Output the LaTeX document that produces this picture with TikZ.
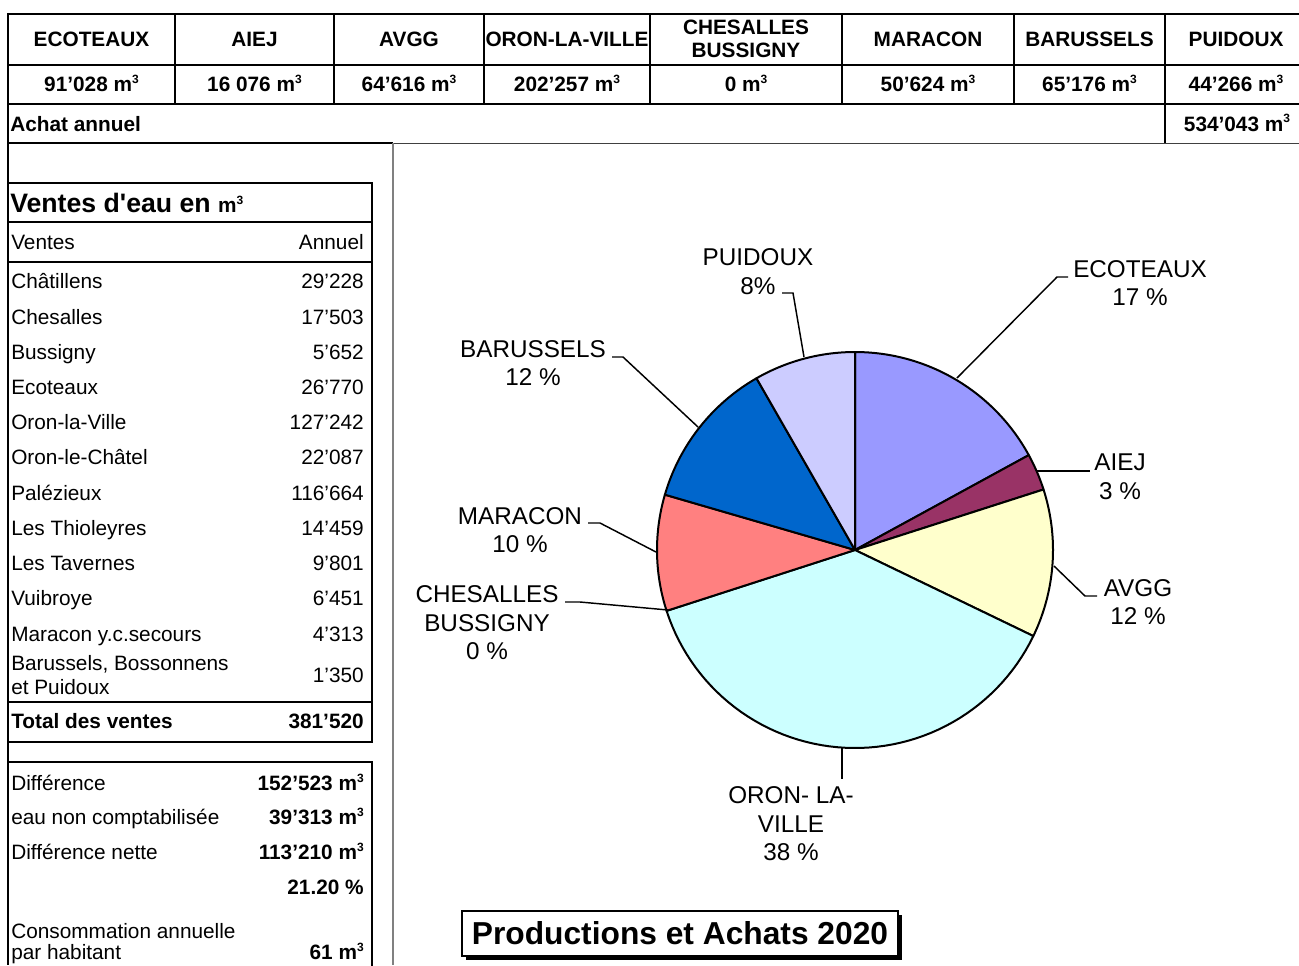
\documentclass[tikz,border=0pt]{standalone}
\usepackage{fontspec}
\setmainfont{Liberation Sans}
\usetikzlibrary{calc}
\definecolor{cEco}{HTML}{9999FF}
\definecolor{cAiej}{HTML}{993366}
\definecolor{cAvgg}{HTML}{FFFFCC}
\definecolor{cOron}{HTML}{CCFFFF}
\definecolor{cMara}{HTML}{FF8080}
\definecolor{cBaru}{HTML}{0066CC}
\definecolor{cPuid}{HTML}{CCCCFF}
\definecolor{panelgray}{HTML}{808080}
\definecolor{thingray}{HTML}{404040}
\newcommand{\fnorm}{\fontsize{15.6}{17.3}\selectfont}
\newcommand{\fpie}{\fontsize{18.2}{21.4}\selectfont}
\newcommand{\fvt}{\fontsize{20}{24}\selectfont}
\newcommand{\fchart}{\fontsize{23.8}{28}\selectfont}
\newcommand{\cubm}{m\raisebox{6.2pt}{\fontsize{9}{9}\selectfont 3}}
\begin{document}
\begin{tikzpicture}[x=0.75pt,y=-0.75pt,
  thk/.style={line width=2.2pt},
  mid/.style={line width=1.5pt},
  cell/.style={font=\fnorm\bfseries, inner sep=0, align=center},
  lab/.style={font=\fnorm, inner sep=0},
  labb/.style={font=\fnorm\bfseries, inner sep=0},
  pielab/.style={font=\fpie, inner sep=0, align=center},
  slice/.style={draw=black, line width=1.5pt, line join=round},
  lead/.style={line width=1.1pt}]
\useasboundingbox (0,0) rectangle (1299,965);

% ---------- top table ----------
\draw[thk] (8,14) -- (1299,14);
\draw[mid] (8,65) -- (1299,65);
\draw[thk] (8,104) -- (1299,104);
\draw[thk] (8,12.9) -- (8,965);
\foreach \cx in {175,334,484,650,842,1014} {\draw[thk] (\cx,14) -- (\cx,104);}
\draw[thk] (1165,14) -- (1165,143);
\draw[thk] (8,143) -- (393,143);
\draw[line width=0.75pt, draw=thingray] (393,143) -- (1299,143);
\draw[line width=1.5pt, draw=panelgray] (393,143) -- (393,965);

\node[cell, anchor=base] (h1) at (91.5,46.5) {ECOTEAUX};
\node[cell, anchor=base] (h2) at (254.5,46.5) {AIEJ};
\node[cell, anchor=base] (h3) at (409,46.5) {AVGG};
\node[cell, anchor=base] (h4) at (567,46.5) {ORON-LA-VILLE};
\node[cell] (h5) at (746,39) {CHESALLES\\BUSSIGNY};
\node[cell, anchor=base] (h6) at (928,46.5) {MARACON};
\node[cell, anchor=base] (h7) at (1089.5,46.5) {BARUSSELS};
\node[cell, anchor=base] (h8) at (1236,46.5) {PUIDOUX};

\node[cell, anchor=base] (v1) at (91.5,91.5) {91'028 \cubm};
\node[cell, anchor=base] (v2) at (254.5,91.5) {16 076 \cubm};
\node[cell, anchor=base] (v3) at (409,91.5) {64'616 \cubm};
\node[cell, anchor=base] (v4) at (567,91.5) {202'257 \cubm};
\node[cell, anchor=base] (v5) at (746,91.5) {0 \cubm};
\node[cell, anchor=base] (v6) at (928,91.5) {50'624 \cubm};
\node[cell, anchor=base] (v7) at (1089.5,91.5) {65'176 \cubm};
\node[cell, anchor=base] (v8) at (1236,91.5) {44'266 \cubm};

\node[labb, anchor=base west] (achat) at (10,131) {Achat annuel};
\node[cell, anchor=base] (achatv) at (1237,131) {534'043 \cubm};

% ---------- Ventes table ----------
\draw[thk] (8,183) -- (372,183) -- (372,742) -- (8,742);
\draw[thk] (8,222) -- (372,222);
\draw[thk] (8,262) -- (372,262);
\draw[thk] (8,702) -- (372,702);
\node[font=\fvt\bfseries, inner sep=0, anchor=base west] (vt) at (10,212.5) {Ventes d\textquotesingle eau en {\fnorm\cubm}};
\node[lab, anchor=base west] (vh1) at (11,249.5) {Ventes};
\node[lab, anchor=base east] (vh2) at (364,249.5) {Annuel};
\foreach \yy/\nm/\val [count=\i] in {
  281/Châtillens/29'228,
  317/Chesalles/17'503,
  352/Bussigny/5'652,
  387/Ecoteaux/26'770,
  422/Oron-la-Ville/127'242,
  457/Oron-le-Châtel/22'087,
  493/Palézieux/116'664,
  528/Les Thioleyres/14'459,
  563/Les Tavernes/9'801,
  598/Vuibroye/6'451,
  634/Maracon y.c.secours/4'313} {
  \node[lab, anchor=base west] (r\i) at (11,\yy+7.5) {\nm};
  \node[lab, anchor=base east] (rv\i) at (364,\yy+7.5) {\val};
}
\node[lab, anchor=base west] (r12a) at (11,670) {Barussels, Bossonnens};
\node[lab, anchor=base west] (r12b) at (11,694.5) {et Puidoux};
\node[lab, anchor=base east] (rv12) at (364,682.5) {1'350};
\node[labb, anchor=base west] (tot) at (11,728.5) {Total des ventes};
\node[labb, anchor=base east] (totv) at (364,728.5) {381'520};

% ---------- second box ----------
\draw[thk] (8,762) -- (372,762) -- (372,970);
\node[lab, anchor=base west] (d1) at (11,790.5) {Différence};
\node[labb, anchor=base east] (d1v) at (364,790.5) {152'523 \cubm};
\node[lab, anchor=base west] (d2) at (11,824.5) {eau non comptabilisée};
\node[labb, anchor=base east] (d2v) at (364,824.5) {39'313 \cubm};
\node[lab, anchor=base west] (d3) at (11,859.5) {Différence nette};
\node[labb, anchor=base east] (d3v) at (364,859.5) {113'210 \cubm};
\node[labb, anchor=base east] (d4v) at (364,894.5) {21.20 \%};
\node[lab, anchor=base west] (d5) at (11,938) {Consommation annuelle};
\node[lab, anchor=base west] (d6) at (11,959.5) {par habitant};
\node[labb, anchor=base east] (d6v) at (364,959.5) {61 \cubm};

% ---------- pie ----------
\coordinate (pc) at (855,550);
\foreach \a/\b/\c in {-90/-28.638/cEco, -28.638/-17.801/cAiej, -17.801/25.757/cAvgg,
  25.757/162.099/cOron, 162.099/196.225/cMara, 196.225/240.160/cBaru, 240.160/270/cPuid} {
  \filldraw[slice, fill=\c] (pc) -- plot[domain=\a:\b, samples=60, variable=\t]
    ({855+198*cos(\t)},{550+198*sin(\t)}) -- cycle;
}

% labels
\node[pielab] (lEco) at (1140,283) {ECOTEAUX\\17 \%};
\node[pielab] (lAiej) at (1120,477) {AIEJ\\3 \%};
\node[pielab] (lAvgg) at (1138,602) {AVGG\\12 \%};
\node[pielab] (lOron) at (791,824) {ORON- LA-\\VILLE\\38 \%};
\node[pielab] (lChes) at (487,623) {CHESALLES\\BUSSIGNY\\0 \%};
\node[pielab] (lMara) at (520,530) {MARACON\\10 \%};
\node[pielab] (lBaru) at (533,363) {BARUSSELS\\12 \%};
\node[pielab] (lPuid) at (758,271.5) {PUIDOUX\\8\%};

% leader lines
\coordinate (eA) at (957,378); \coordinate (eB) at (1057,277); \coordinate (eC) at (1068,277);
\draw[lead] (eA) -- (eB) -- (eC);
\coordinate (aA) at (1037,471); \coordinate (aB) at (1090,471);
\draw[lead] (aA) -- (aB);
\coordinate (gA) at (1054,566); \coordinate (gB) at (1085,596); \coordinate (gC) at (1097,596);
\draw[lead] (gA) -- (gB) -- (gC);
\coordinate (oA) at (842,748); \coordinate (oB) at (842,779);
\draw[lead] (oA) -- (oB);
\coordinate (cA) at (668,610); \coordinate (cB) at (580,602); \coordinate (cC) at (565,602);
\draw[lead] (cA) -- (cB) -- (cC);
\coordinate (mA) at (656,552); \coordinate (mB) at (600,523); \coordinate (mC) at (588,523);
\draw[lead] (mA) -- (mB) -- (mC);
\coordinate (bA) at (698,427); \coordinate (bB) at (623,357); \coordinate (bC) at (612,357);
\draw[lead] (bA) -- (bB) -- (bC);
\coordinate (pA) at (804,357); \coordinate (pB) at (793,293); \coordinate (pC) at (782,293);
\draw[lead] (pA) -- (pB) -- (pC);

% ---------- chart title ----------
\fill[black] (466,915) rectangle (902,960);
\draw[fill=white, line width=0.9pt] (462,911) rectangle (898,956);
\node[font=\fchart\bfseries, inner sep=0] (title) at (680,933.5) {Productions et Achats 2020};
\end{tikzpicture}
\end{document}
